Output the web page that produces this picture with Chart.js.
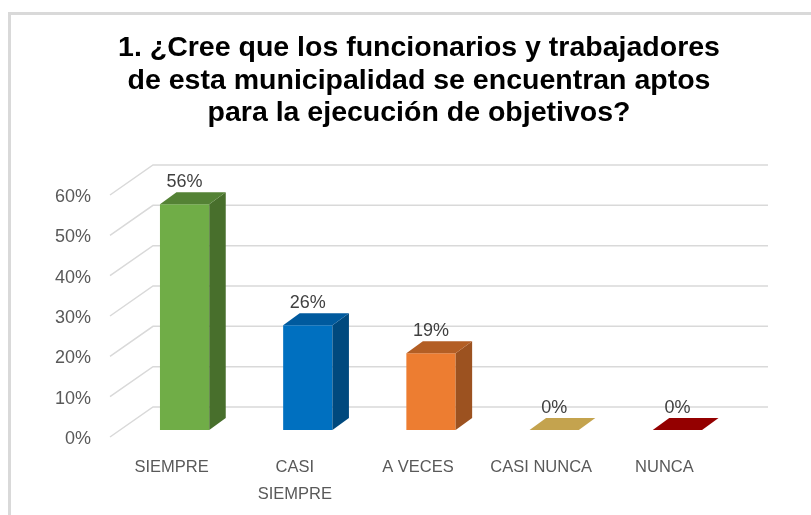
<!DOCTYPE html>
<html>
<head>
<meta charset="utf-8">
<script src="https://cdn.jsdelivr.net/npm/chart.js@4/dist/chart.umd.min.js"></script>
<style>
  html, body { margin: 0; padding: 0; background: #fff; }
  #wrap { position: relative; width: 811px; height: 515px; }
  canvas { display: block; }
</style>
</head>
<body>
<div id="wrap"><canvas id="c" width="811" height="515"></canvas></div>
<script>
// ---- data ----
const categories = ['SIEMPRE', ['CASI', 'SIEMPRE'], 'A VECES', 'CASI NUNCA', 'NUNCA'];
const percentValues = [56, 26, 19, 0, 0];
const valueLabels = ['56%', '26%', '19%', '0%', '0%'];
const yTickMax = 60;
const yTickStep = 10;
const titleLines = [
  '1. ¿Cree que los funcionarios y trabajadores',
  'de esta municipalidad se encuentran aptos',
  'para la ejecución de objetivos?'
];

// ---- styles ----
const frontColors = ['#70AD47', '#0070C0', '#ED7D31', '#C4A34E', '#940000'];
const sideColors  = ['#486F2C', '#00497E', '#9C5220', '#8A7236', '#6A0000'];
const topColors   = ['#548235', '#005A9E', '#B35E24', '#C4A34E', '#940000'];
const DX = 16.5, DY = -12;
const FONT = '"Liberation Sans", Arial, sans-serif';

const threeD = {
  id: 'threeD',
  beforeDraw(chart) {
    const ctx = chart.ctx;
    ctx.save();
    ctx.strokeStyle = '#D9D9D9';
    ctx.lineWidth = 3;
    ctx.beginPath();
    ctx.moveTo(9.5, 515);
    ctx.lineTo(9.5, 13.5);
    ctx.lineTo(811, 13.5);
    ctx.stroke();
    ctx.restore();
  },
  beforeDatasetsDraw(chart) {
    const ctx = chart.ctx;
    const ys = chart.scales.y;
    const { left, right } = chart.chartArea;
    ctx.save();
    ctx.strokeStyle = '#D9D9D9';
    ctx.lineWidth = 1.5;
    ys.ticks.forEach(t => {
      const py = ys.getPixelForValue(t.value);
      ctx.beginPath();
      ctx.moveTo(left - 13, py + 7);
      ctx.lineTo(left + 30, py - 23);
      ctx.lineTo(right + 29, py - 23);
      ctx.stroke();
    });
    ctx.restore();
  },
  afterDatasetsDraw(chart) {
    const ctx = chart.ctx;
    const meta = chart.getDatasetMeta(0);
    ctx.save();
    meta.data.forEach((bar, i) => {
      const p = bar.getProps(['x', 'y', 'base', 'width'], true);
      const l = p.x - p.width / 2, r = p.x + p.width / 2;
      if (p.base - p.y > 0.5) {
        ctx.fillStyle = sideColors[i];
        ctx.beginPath();
        ctx.moveTo(r, p.y);
        ctx.lineTo(r + DX, p.y + DY);
        ctx.lineTo(r + DX, p.base + DY);
        ctx.lineTo(r, p.base);
        ctx.closePath();
        ctx.fill();
      }
      ctx.fillStyle = topColors[i];
      ctx.beginPath();
      ctx.moveTo(l, p.y);
      ctx.lineTo(l + DX, p.y + DY);
      ctx.lineTo(r + DX, p.y + DY);
      ctx.lineTo(r, p.y);
      ctx.closePath();
      ctx.fill();
      ctx.fillStyle = '#404040';
      ctx.font = '18px ' + FONT;
      ctx.textAlign = 'center';
      ctx.textBaseline = 'middle';
      ctx.fillText(valueLabels[i], p.x, p.y - 22);
    });
    ctx.restore();
  }
};

new Chart(document.getElementById('c'), {
  type: 'bar',
  data: {
    labels: categories,
    datasets: [{
      data: percentValues,
      backgroundColor: frontColors,
      borderWidth: 0,
      barPercentage: 0.4,
      categoryPercentage: 1.0
    }]
  },
  options: {
    responsive: false,
    animation: false,
    events: [],
    layout: { padding: { left: 99, right: 72, top: 0, bottom: 0 } },
    plugins: {
      legend: { display: false },
      tooltip: { enabled: false },
      title: {
        display: true,
        text: titleLines,
        color: '#000000',
        font: { family: FONT, size: 28.5, weight: 'bold', lineHeight: '32.5px' },
        padding: { top: 32, bottom: 58.5 }
      }
    },
    scales: {
      x: {
        grid: { display: false, drawTicks: false },
        border: { display: false },
        ticks: {
          color: '#595959',
          font: { family: FONT, size: 16.5, lineHeight: '27px' },
          padding: 23.5,
          labelOffset: -13,
          maxRotation: 0,
          autoSkip: false
        },
        afterFit(scale) { scale.height = 85; }
      },
      y: {
        min: 0,
        max: yTickMax,
        grid: { display: false, drawTicks: false },
        border: { display: false },
        ticks: {
          stepSize: yTickStep,
          color: '#595959',
          font: { family: FONT, size: 18 },
          mirror: true,
          crossAlign: 'far',
          padding: -68,
          labelOffset: 9,
          callback: v => v + '%'
        },
        afterFit(scale) { scale.width = 24; }
      }
    }
  },
  plugins: [threeD]
});
</script>
</body>
</html>
